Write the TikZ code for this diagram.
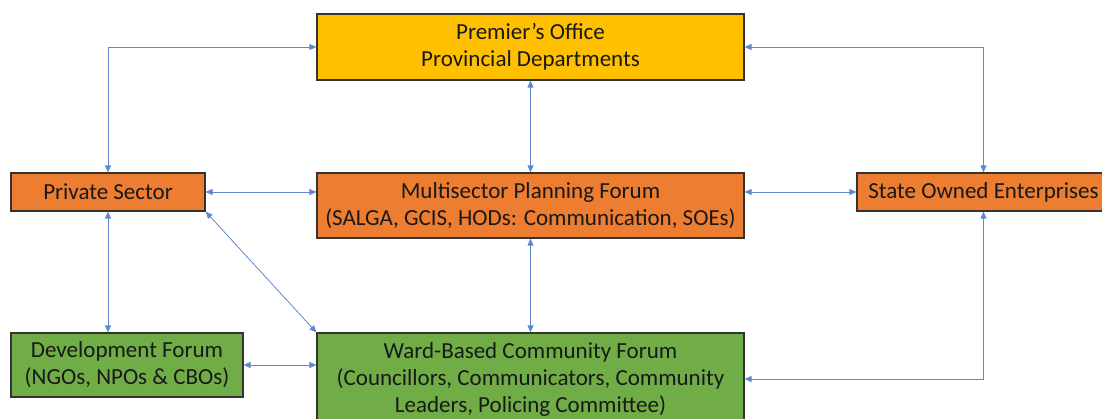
\documentclass[tikz,border=0pt]{standalone}
\usepackage{fontspec}
\setmainfont{Carlito}
\usepackage{tikz}
\usetikzlibrary{arrows.meta, positioning}

\definecolor{premyellow}{HTML}{FFC000}
\definecolor{forumorange}{HTML}{ED7D31}
\definecolor{forumgreen}{HTML}{70AD47}
\definecolor{linkblue}{HTML}{4472C4}

\tikzset{
	forumbox/.style={rectangle,draw=black!80,line width=1.2pt,align=center,inner sep=0pt,text=black!90,font=\fontsize{23}{27}\selectfont},
	link/.style={linkblue!85,line width=0.8pt,<->,>={Triangle[length=7pt,width=6pt]}}
}

\begin{document}
\begin{tikzpicture}[x=1pt,y=-1pt]
		\useasboundingbox (0,0) rectangle (1102,419);
		%\draw[gray,step=50] (0,0) grid (1102,419);
		\node[forumbox,fill=premyellow,minimum width=427pt,minimum height=66pt] (P) at (530.5,47) {Premier's Office\\Provincial Departments};
		\node[forumbox,fill=forumorange,minimum width=194pt,minimum height=38pt] (Priv) at (108,192) {Private Sector};
		\node[forumbox,fill=forumorange,minimum width=427pt,minimum height=65pt] (M) at (530.5,205.5) {Multisector Planning Forum\\(SALGA, GCIS, HODs: Communication, SOEs)};
		\node[forumbox,fill=forumorange,minimum width=253pt,minimum height=38pt] (S) at (983.5,192) {State Owned Enterprises};
		\node[forumbox,fill=forumgreen,minimum width=232pt,minimum height=64pt] (D) at (127,365) {Development Forum\\(NGOs, NPOs \& CBOs)};
		\node[forumbox,fill=forumgreen,minimum width=427pt,minimum height=92pt] (W) at (530.5,379) {Ward-Based Community Forum\\(Councillors, Communicators, Community\\Leaders, Policing Committee)};

		\draw[link] (Priv.north) |- (P.west);
		\draw[link] (P.east) -| (S.north);
		\draw[link] (P.south) -- (M.north);
		\draw[link] (Priv.east) -- (Priv.east -| M.west);
		\draw[link] (M.east |- S.west) -- (S.west);
		\draw[link] (Priv.south) -- (Priv.south |- D.north);
		\draw[link] (Priv.south east) -- (W.north west);
		\draw[link] (M.south) -- (W.north);
		\draw[link] (D.east) -- (D.east -| W.west);
		\draw[link] (S.south) |- (W.east);

	\end{tikzpicture}
\end{document}
